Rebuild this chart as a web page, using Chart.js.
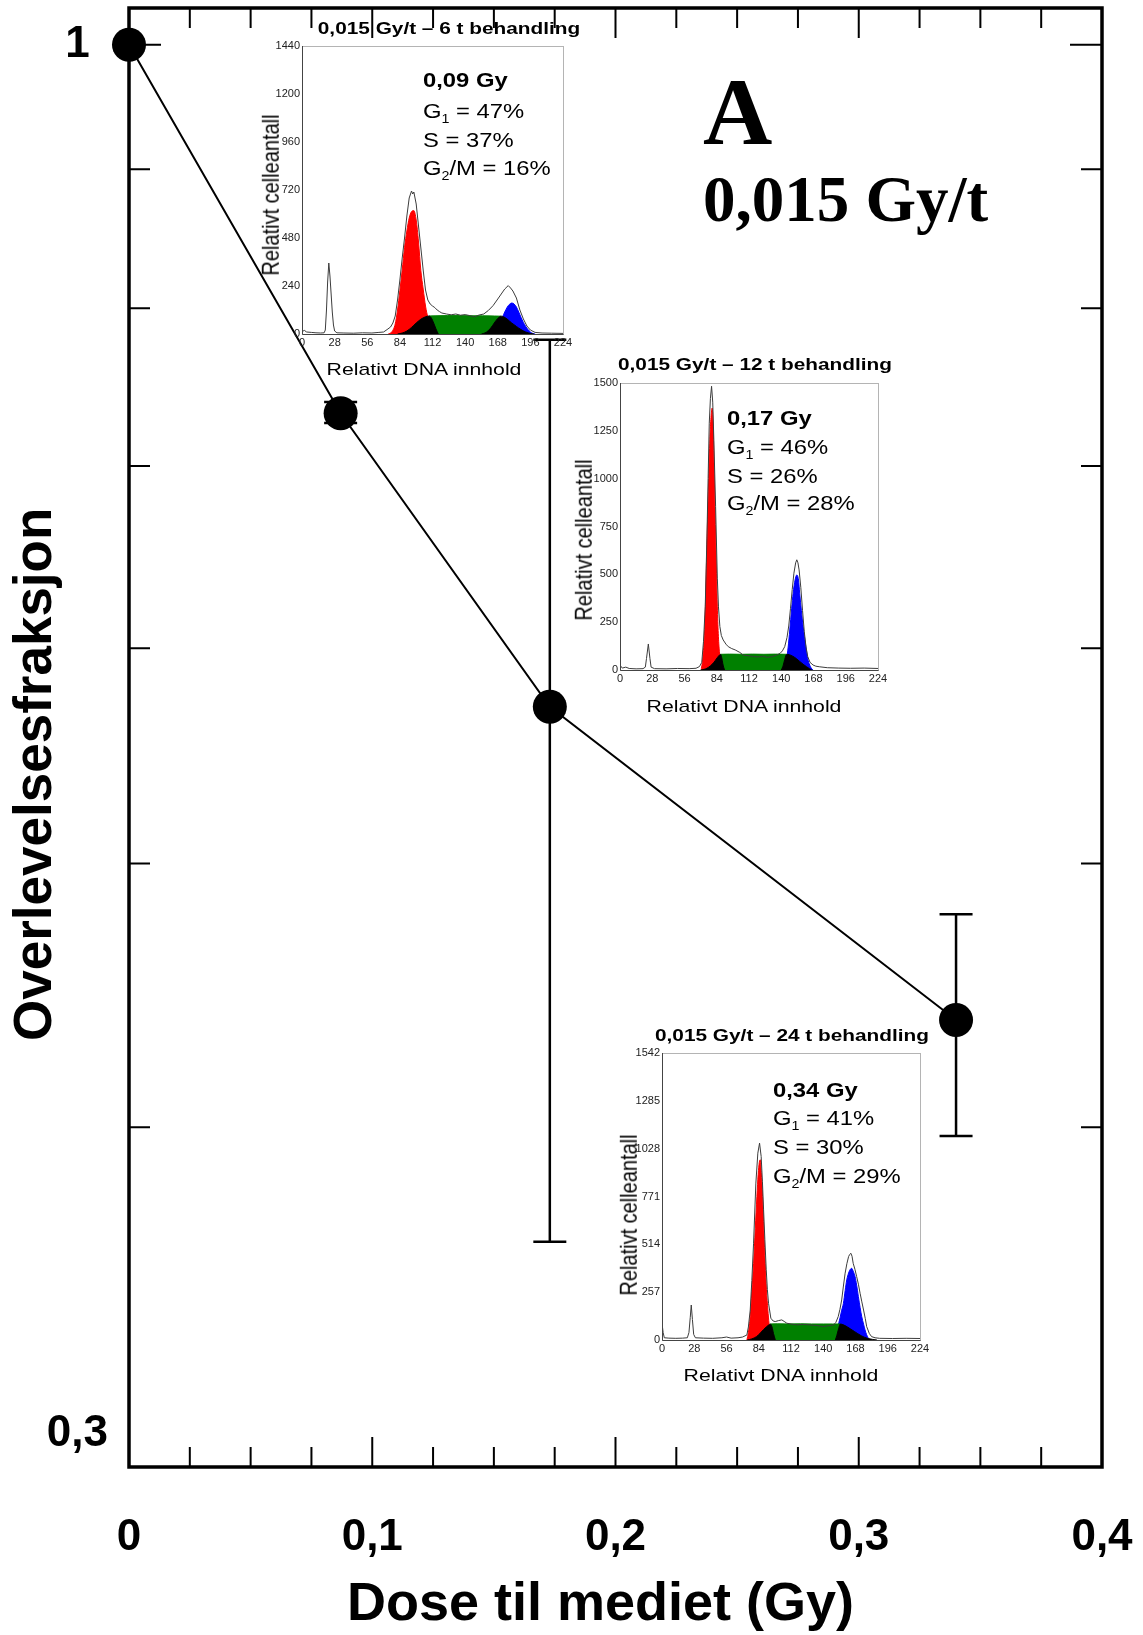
<!DOCTYPE html>
<html>
<head>
<meta charset="utf-8">
<script src="https://cdn.jsdelivr.net/npm/chart.js@4.4.1/dist/chart.umd.min.js"></script>
<style>
  body { margin: 0; background: #fff; }
  #wrap { position: relative; width: 1143px; height: 1635px; overflow: hidden; font-family: "Liberation Sans", Arial, sans-serif; }
  canvas { position: absolute; }
  .txt { position: absolute; white-space: nowrap; color: #000; }
  .txt sub { font-size: 12px; vertical-align: -5px; line-height: 0; }
</style>
</head>
<body>
<div id="wrap">
  <canvas id="main" width="1143" height="1635" style="left:0;top:0"></canvas>
  <canvas id="inset6"></canvas>
  <canvas id="inset12"></canvas>
  <canvas id="inset24"></canvas>
</div>
<script>
// main curve
const doseGy = [0, 0.087, 0.173, 0.34];
const survival = [1, 0.732, 0.571, 0.438];
const errUp = [0, 0.007, 0.208, 0.041];
const errDown = [0, 0.006, 0.208, 0.041];

const xTickValues = [0, 0.1, 0.2, 0.3, 0.4];
const xTickLabels = ["0", "0,1", "0,2", "0,3", "0,4"];
const xMajorTicks = [0.1, 0.2, 0.3];
const xMinorTicks = [0.025, 0.05, 0.075, 0.125, 0.15, 0.175, 0.225, 0.25, 0.275, 0.325, 0.35, 0.375];
const yTickValues = [0.3, 1];
const yTickLabels = [["0,3", ""], "1"];
const yMajorTicks = [1];
const yMinorTicks = [0.4, 0.5, 0.6, 0.7, 0.8, 0.9];

// inset histograms: [DNA channel, cell count]
const dnaTicks = [0, 28, 56, 84, 112, 140, 168, 196, 224];
const hist6YTicks = [0, 240, 480, 720, 960, 1200, 1440];
const hist12YTicks = [0, 250, 500, 750, 1000, 1250, 1500];
const hist24YTicks = [0, 257, 514, 771, 1028, 1285, 1542];

const hist6Raw = [[0,12],[2,18],[4,10],[8,8],[12,6],[16,5],[19,6],[20,20],[21,120],[22,260],[23,355],[24,290],[25,200],[26,110],[27,45],[28,15],[30,6],[36,5],[44,4],[52,6],[60,5],[66,8],[70,10],[73,22],[76,35],[78,55],[80,90],[82,170],[84,270],[86,380],[88,480],[90,590],[92,680],[94,715],[95,700],[96,710],[98,650],[100,540],[102,430],[104,320],[106,220],[108,170],[110,150],[112,140],[114,132],[116,120],[118,112],[120,105],[124,100],[128,96],[132,100],[136,94],[140,97],[144,92],[148,86],[152,95],[156,100],[160,118],[164,142],[168,175],[171,200],[174,225],[177,242],[179,230],[181,215],[184,180],[187,120],[190,75],[193,40],[196,20],[200,8],[206,5],[214,4],[224,3]];
const hist6G1 = [[74,0],[77,10],[80,50],[82,120],[84,217],[86,320],[88,433],[90,515],[92,580],[94,612],[96,617],[98,570],[100,460],[102,317],[104,225],[106,140],[108,83],[110,40],[112,12],[114,0]];
const hist6SLeft = [[82,0],[86,5],[90,15],[94,33],[98,55],[102,74],[106,86],[109,90],[111,80],[113,55],[115,25],[117,0]];
const hist6SMid = [[109,90],[115,91],[125,92],[135,92],[145,91],[155,91],[165,90],[171,89]];
const hist6SRight = [[154,0],[158,8],[162,30],[165,55],[168,78],[171,89],[173,86],[176,75],[180,55],[184,38],[188,22],[192,10],[196,3],[199,0]];
const hist6G2 = [[164,0],[167,10],[170,50],[172,83],[174,110],[176,133],[178,148],[180,155],[182,150],[184,135],[186,110],[188,83],[190,58],[192,38],[194,22],[196,10],[198,3],[200,0]];

const hist12Raw = [[0,25],[2,10],[5,15],[8,8],[14,6],[20,7],[22,15],[23,60],[24.6,136],[26,60],[27,15],[30,7],[40,6],[50,8],[60,7],[66,9],[69,18],[71,40],[72.5,150],[74,331],[75.5,700],[76.5,1000],[77.5,1290],[78.5,1420],[79.5,1483],[80.5,1400],[81.5,1200],[83,855],[84.5,480],[85.5,330],[86.7,227],[88,180],[89.6,157],[92,135],[94,122],[97,112],[100,105],[104,92],[107,78],[112,74],[116,70],[120,68],[124,72],[128,66],[132,70],[136,78],[139,87],[141,100],[143,122],[145,170],[146.5,230],[148,320],[149.5,420],[151,506],[152.5,560],[153.5,576],[154.5,560],[155.5,523],[157,430],[158.5,310],[160,200],[161.5,120],[163,70],[165,40],[167.6,26],[170,20],[173,17],[180,12],[190,10],[200,9],[212,10],[224,8]];
const hist12G1 = [[70.5,0],[72,70],[73.7,244],[75.7,715],[77,1000],[78,1203],[79,1320],[80,1369],[81,1250],[81.8,1029],[82.8,760],[83.8,506],[84.5,330],[85.3,192],[86.3,95],[87.3,40],[88.5,0]];
const hist12SLeft = [[70,0],[74,5],[77,15],[80,30],[82.5,48],[84.5,65],[86,76],[87.3,82],[88.3,65],[89.2,35],[90.2,10],[91,0]];
const hist12SMid = [[87.3,82],[95,83],[105,82],[115,83],[125,82],[135,83],[144.7,82]];
const hist12SRight = [[140,0],[141.5,20],[143,55],[144.7,82],[147,80],[150,72],[153,60],[156,45],[159,30],[162,17],[164.5,7],[166.5,0]];
const hist12G2 = [[142,0],[144.5,52],[146,120],[147.4,209],[149,320],[150.3,401],[152,470],[153.5,497],[155,470],[156,401],[157.5,310],[159,227],[160.5,160],[161.8,105],[163,60],[164.7,26],[166,10],[167.6,0]];

const hist24Raw = [[0,90],[1,40],[2,12],[6,10],[12,9],[18,10],[22,12],[23.4,40],[24.5,120],[25.4,188],[26.4,110],[27.5,30],[29,12],[36,10],[44,9],[52,12],[56,16],[60,10],[66,12],[70,16],[73.7,27],[75,70],[76.6,161],[78,320],[79.5,520],[81.5,843],[83.2,1004],[84.7,1058],[86.1,986],[87.2,850],[88.2,699],[89.3,540],[90.5,377],[91.5,270],[92.5,197],[94.5,117],[96.5,102],[98.3,99],[101,104],[104,108],[106,100],[108.4,90],[112,86],[117,81],[122,84],[128.6,81],[134,78],[140,72],[145,77],[149,81],[151,95],[153,126],[154.5,165],[156,215],[157.5,290],[159,359],[160.5,410],[162,448],[163,460],[164,466],[165,450],[166,412],[167.5,380],[169,341],[170.5,300],[172,251],[173.5,205],[175,161],[176.5,115],[177.7,72],[180,35],[182,18],[185,12],[189,9],[200,8],[212,9],[224,8]];
const hist24G1 = [[73.7,0],[75,40],[76.6,126],[78,260],[79.5,412],[81,600],[82.4,771],[83.5,890],[84.5,955],[85.3,968],[86.2,900],[87.3,771],[88.4,590],[89.6,412],[90.7,270],[91.9,161],[92.9,90],[93.9,36],[95.4,0]];
const hist24SLeft = [[74,0],[78,6],[82,18],[85,35],[88,55],[90.5,70],[92.5,80],[94,86],[95.5,70],[96.8,35],[98.4,0]];
const hist24SMid = [[94,86],[100,87],[110,86],[120,87],[130,86],[140,86],[148,86],[154.8,86]];
const hist24SRight = [[150.5,0],[151.8,25],[153.3,60],[154.8,86],[158,80],[161,70],[164,58],[167,46],[170,34],[173,23],[176,14],[179,8],[183,3],[186.6,0]];
const hist24G2 = [[145,0],[148,10],[150,30],[152.5,70],[154.6,120],[156,160],[157.5,197],[159,265],[160.4,323],[162,360],[163.5,380],[164.7,385],[166,370],[167.6,341],[169,295],[170.5,233],[172,175],[173.4,126],[175,85],[176.3,54],[177.7,28],[179.2,9],[182,0]];

const insetHours = [6, 12, 24];
const insetDose = ["0,09 Gy", "0,17 Gy", "0,34 Gy"];
const insetG1 = [47, 46, 41];
const insetS = [37, 26, 30];
const insetG2M = [16, 28, 29];

// where the insets sit on the page
const insetBoxes = [
  { l: 302, t: 46, r: 563, b: 334, titleX: 449, titleTop: 20.8, textLeft: 423, textTops: [70.4, 101.4, 129.8, 158.1], xTitleX: 424, xTitleTop: 361.3, yTitleX: 270, yTitleY: 195 },
  { l: 620, t: 383, r: 878, b: 670, titleX: 755, titleTop: 356.5, textLeft: 727, textTops: [408.1, 437.1, 465.6, 493.1], xTitleX: 744, xTitleTop: 698.3, yTitleX: 583, yTitleY: 540 },
  { l: 662, t: 1053, r: 920, b: 1340, titleX: 792, titleTop: 1028.2, textLeft: 773, textTops: [1080.4, 1108.1, 1137.1, 1165.8], xTitleX: 781, xTitleTop: 1366.6, yTitleX: 628, yTitleY: 1215 }
];

Chart.defaults.font.family = '"Liberation Sans", Arial, sans-serif';
Chart.defaults.color = "#000";

// frame with inward ticks on all four sides
const frameTicks = {
  id: "frameTicks",
  afterDraw(chart) {
    const { ctx, chartArea: a, scales: { x, y } } = chart;
    ctx.save();
    ctx.strokeStyle = "#000";
    ctx.lineWidth = 2;
    ctx.beginPath();
    for (const v of xMinorTicks.concat(xMajorTicks)) {
      const len = xMajorTicks.includes(v) ? 30 : 20;
      const px = x.getPixelForValue(v);
      ctx.moveTo(px, a.bottom); ctx.lineTo(px, a.bottom - len);
      ctx.moveTo(px, a.top); ctx.lineTo(px, a.top + len);
    }
    for (const v of yMinorTicks.concat(yMajorTicks)) {
      const len = yMajorTicks.includes(v) ? 32 : 21;
      const py = y.getPixelForValue(v);
      ctx.moveTo(a.left, py); ctx.lineTo(a.left + len, py);
      ctx.moveTo(a.right, py); ctx.lineTo(a.right - len, py);
    }
    ctx.stroke();
    ctx.lineWidth = 3.5;
    ctx.strokeRect(a.left, a.top, a.right - a.left, a.bottom - a.top);
    ctx.restore();
  }
};

const errorBars = {
  id: "errorBars",
  beforeDatasetsDraw(chart) {
    const { ctx, scales: { x, y } } = chart;
    ctx.save();
    ctx.strokeStyle = "#000";
    ctx.lineWidth = 2.5;
    ctx.beginPath();
    for (let i = 0; i < doseGy.length; i++) {
      if (!errUp[i] && !errDown[i]) continue;
      const px = x.getPixelForValue(doseGy[i]);
      const top = y.getPixelForValue(survival[i] + errUp[i]);
      const bot = y.getPixelForValue(survival[i] - errDown[i]);
      ctx.moveTo(px, top); ctx.lineTo(px, bot);
      ctx.moveTo(px - 16.5, top); ctx.lineTo(px + 16.5, top);
      ctx.moveTo(px - 16.5, bot); ctx.lineTo(px + 16.5, bot);
    }
    ctx.stroke();
    ctx.restore();
  }
};

// fixed axis boxes, no label overflow padding
function fixHeight(h) {
  return (s) => { s.height = h; s.paddingLeft = 0; s.paddingRight = 0; s.paddingTop = 0; s.paddingBottom = 0; };
}
function fixWidth(w) {
  return (s) => { s.width = w; s.paddingLeft = 0; s.paddingRight = 0; s.paddingTop = 0; s.paddingBottom = 0; };
}

new Chart(document.getElementById("main"), {
  type: "line",
  data: {
    datasets: [{
      data: doseGy.map((d, i) => ({ x: d, y: survival[i] })),
      borderColor: "#000",
      borderWidth: 2,
      pointRadius: 17,
      pointBackgroundColor: "#000",
      pointBorderWidth: 0,
      tension: 0,
      clip: false
    }]
  },
  options: {
    responsive: false,
    animation: false,
    layout: { autoPadding: false, padding: { left: 0, top: 8, right: 41, bottom: 0 } },
    plugins: { legend: { display: false }, tooltip: { enabled: false } },
    scales: {
      x: {
        type: "linear", min: 0, max: 0.4,
        afterBuildTicks: (s) => { s.ticks = xTickValues.map(v => ({ value: v })); },
        afterFit: fixHeight(168),
        grid: { display: false, drawTicks: false },
        border: { display: false },
        ticks: { font: { size: 44, weight: "bold" }, padding: 44, maxRotation: 0, autoSkip: false, callback: (v, i) => xTickLabels[i] },
        title: { display: true, text: "Dose til mediet (Gy)  ", font: { size: 54, weight: "bold", lineHeight: 1 }, padding: { top: 0, bottom: 3 } }
      },
      y: {
        type: "logarithmic", min: 0.3, max: 1.0316,
        afterBuildTicks: (s) => { s.ticks = yTickValues.map(v => ({ value: v })); },
        afterFit: fixWidth(129),
        grid: { display: false, drawTicks: false },
        border: { display: false },
        ticks: { font: { size: 44, weight: "bold", lineHeight: 1.5 }, crossAlign: "center", padding: 21, autoSkip: false, callback: (v, i) => yTickLabels[i] },
        title: { display: true, text: "Overlevelsesfraksjon     ", font: { size: 53, weight: "bold" }, padding: { top: 5, bottom: 0 } }
      }
    }
  },
  plugins: [frameTicks, errorBars]
});

const insetFrame = {
  id: "insetFrame",
  afterDraw(chart) {
    const { ctx, chartArea: a } = chart;
    ctx.save();
    ctx.lineWidth = 1;
    ctx.strokeStyle = "#b4b4b4";
    ctx.strokeRect(a.left + 0.5, a.top + 0.5, a.right - a.left, a.bottom - a.top);
    ctx.strokeStyle = "#444";
    ctx.beginPath();
    ctx.moveTo(a.left + 0.5, a.top);
    ctx.lineTo(a.left + 0.5, a.bottom + 0.5);
    ctx.lineTo(a.right + 0.5, a.bottom + 0.5);
    ctx.stroke();
    ctx.restore();
  }
};

function toXY(pairs) {
  return pairs.map(p => ({ x: p[0], y: p[1] }));
}

function fillSet(pairs, color, order) {
  return {
    data: toXY(pairs), borderColor: color, backgroundColor: color, borderWidth: 1,
    pointRadius: 0, fill: "origin", cubicInterpolationMode: "monotone", order: order
  };
}

function showInset(id, box, yTicks, raw, g1, sLeft, sMid, sRight, g2) {
  const cv = document.getElementById(id);
  cv.width = box.r - box.l + 55;
  cv.height = box.b - box.t + 32;
  cv.style.left = (box.l - 40) + "px";
  cv.style.top = (box.t - 10) + "px";
  new Chart(cv, {
    type: "line",
    data: {
      datasets: [
        { data: toXY(raw), borderColor: "#3c3c3c", borderWidth: 1, pointRadius: 0, fill: false, tension: 0, order: 0 },
        fillSet(sLeft, "#000", 1),
        fillSet(sRight, "#000", 1),
        fillSet(sMid, "#008000", 2),
        fillSet(g2, "#0000ff", 3),
        fillSet(g1, "#ff0000", 3)
      ]
    },
    options: {
      responsive: false,
      animation: false,
      layout: { autoPadding: false, padding: { left: 0, top: 10, right: 15, bottom: 0 } },
      plugins: { legend: { display: false }, tooltip: { enabled: false } },
      scales: {
        x: {
          type: "linear", min: 0, max: 224,
          afterBuildTicks: (s) => { s.ticks = dnaTicks.map(v => ({ value: v })); },
          afterFit: fixHeight(22),
          grid: { display: false, drawTicks: false },
          border: { display: false },
          ticks: { font: { size: 11 }, color: "#222", padding: 2, maxRotation: 0, autoSkip: false, callback: (v) => String(v) }
        },
        y: {
          type: "linear", min: 0, max: yTicks[yTicks.length - 1],
          afterBuildTicks: (s) => { s.ticks = yTicks.map(v => ({ value: v })); },
          afterFit: fixWidth(40),
          grid: { display: false, drawTicks: false },
          border: { display: false },
          ticks: { font: { size: 11 }, color: "#222", padding: 2, autoSkip: false, callback: (v) => String(v) }
        }
      }
    },
    plugins: [insetFrame]
  });
}

showInset("inset6", insetBoxes[0], hist6YTicks, hist6Raw, hist6G1, hist6SLeft, hist6SMid, hist6SRight, hist6G2);
showInset("inset12", insetBoxes[1], hist12YTicks, hist12Raw, hist12G1, hist12SLeft, hist12SMid, hist12SRight, hist12G2);
showInset("inset24", insetBoxes[2], hist24YTicks, hist24Raw, hist24G1, hist24SLeft, hist24SMid, hist24SRight, hist24G2);

// text on top of the canvases
const wrap = document.getElementById("wrap");
function addText(html, css) {
  const d = document.createElement("div");
  d.className = "txt";
  d.innerHTML = html;
  Object.assign(d.style, css);
  wrap.appendChild(d);
}

addText("A", { left: "703px", top: "64px", fontFamily: '"Liberation Serif", serif', fontWeight: "bold", fontSize: "96px", lineHeight: "96px" });
addText("0,015 Gy/t", { left: "703px", top: "166.6px", fontFamily: '"Liberation Serif", serif', fontWeight: "bold", fontSize: "65px", lineHeight: "65px" });

for (let i = 0; i < insetBoxes.length; i++) {
  const b = insetBoxes[i];
  addText("0,015 Gy/t – " + insetHours[i] + " t behandling", { left: b.titleX + "px", top: b.titleTop + "px", fontSize: "16px", lineHeight: "16px", fontWeight: "bold", transform: "translateX(-50%) scaleX(1.3)" });
  const lines = [
    "<b>" + insetDose[i] + "</b>",
    "G<sub>1</sub> = " + insetG1[i] + "%",
    "S = " + insetS[i] + "%",
    "G<sub>2</sub>/M = " + insetG2M[i] + "%"
  ];
  lines.forEach((t, k) => {
    addText(t, { left: b.textLeft + "px", top: b.textTops[k] + "px", fontSize: "20px", lineHeight: "20px", transformOrigin: "0 50%", transform: "scaleX(1.19)" });
  });
  addText("Relativt DNA innhold", { left: b.xTitleX + "px", top: b.xTitleTop + "px", fontSize: "17px", lineHeight: "17px", transform: "translateX(-50%) scaleX(1.25)" });
  addText("Relativt celleantall", { left: b.yTitleX + "px", top: b.yTitleY + "px", fontSize: "20px", lineHeight: "20px", transform: "translate(-50%,-50%) scaleX(1.2) rotate(-90deg)" });
}
</script>
</body>
</html>
